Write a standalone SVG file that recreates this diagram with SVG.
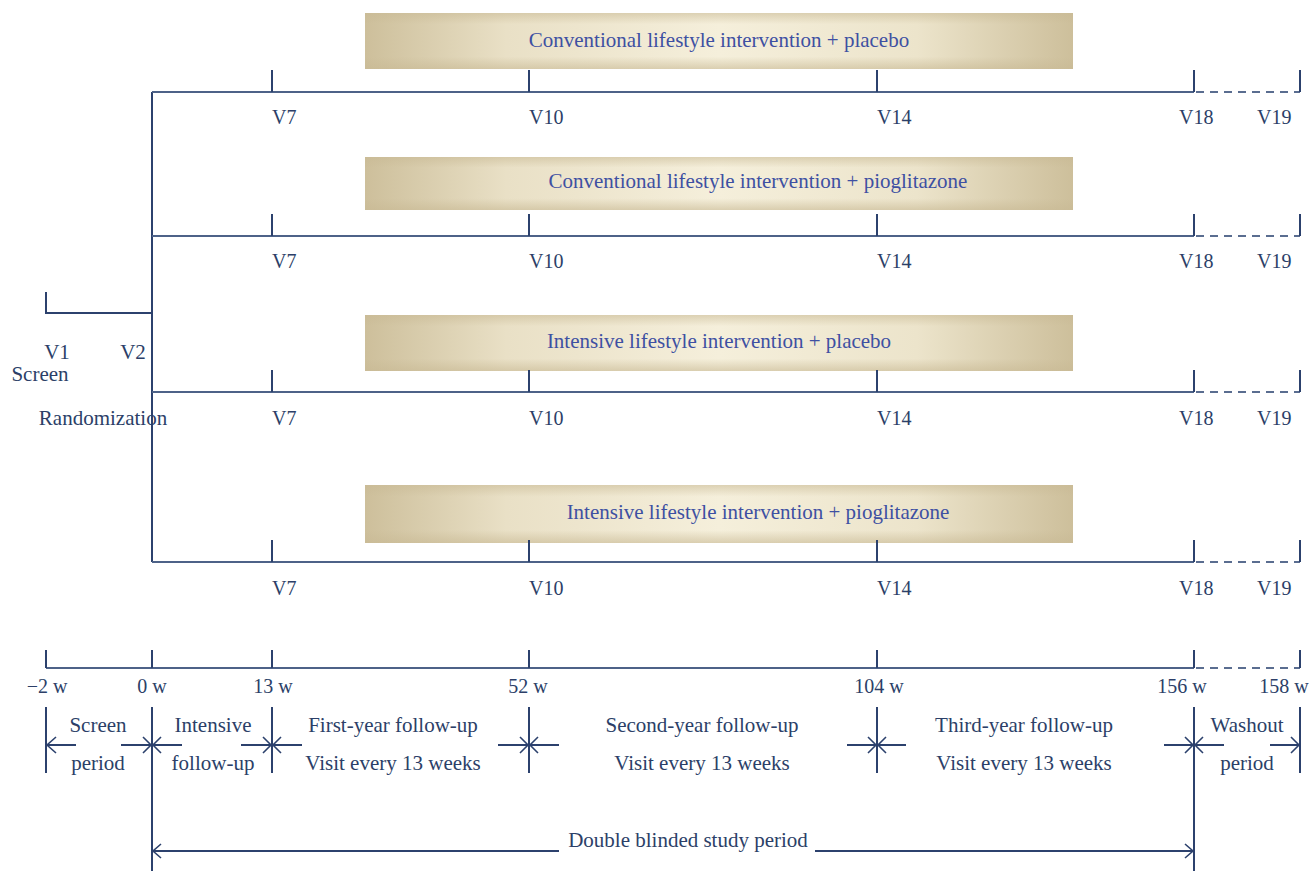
<svg xmlns="http://www.w3.org/2000/svg" width="1309" height="871" viewBox="0 0 1309 871">
<defs>
<linearGradient id="gh" x1="0" y1="0" x2="1" y2="0">
<stop offset="0" stop-color="#cdbf9b"/>
<stop offset="0.2" stop-color="#e9e0c6"/>
<stop offset="0.5" stop-color="#f5efdb"/>
<stop offset="0.78" stop-color="#ece4cb"/>
<stop offset="1" stop-color="#cdbf9b"/>
</linearGradient>
<linearGradient id="gv" x1="0" y1="0" x2="0" y2="1">
<stop offset="0" stop-color="#c8b994" stop-opacity="0.55"/>
<stop offset="0.2" stop-color="#c8b994" stop-opacity="0"/>
<stop offset="0.78" stop-color="#c8b994" stop-opacity="0"/>
<stop offset="1" stop-color="#c8b994" stop-opacity="0.6"/>
</linearGradient>
</defs>
<style>
.ln{stroke:#2c416d;stroke-width:2;fill:none}
.hl{stroke:#4d6288;stroke-width:2;fill:none}
.ds{stroke:#5a6d90;stroke-width:2;fill:none;stroke-dasharray:8 6}
.ah{stroke:#2c416d;stroke-width:1.6;fill:none}
.t{font-family:"Liberation Serif","DejaVu Serif",serif;font-size:21px;fill:#2c3f68}
.v{font-size:20px}
.bt{font-family:"Liberation Serif","DejaVu Serif",serif;font-size:21px;fill:#3e50a2}
.c{text-anchor:middle}
</style>
<rect width="1309" height="871" fill="#ffffff"/>

<g id="arm1">
<rect x="365" y="13" width="708" height="56" fill="url(#gh)"/>
<rect x="365" y="13" width="708" height="56" fill="url(#gv)"/>
<text class="bt c" x="719" y="47">Conventional lifestyle intervention + placebo</text>
</g>
<g id="arm2">
<rect x="365" y="157" width="708" height="53" fill="url(#gh)"/>
<rect x="365" y="157" width="708" height="53" fill="url(#gv)"/>
<text class="bt c" x="758" y="188">Conventional lifestyle intervention + pioglitazone</text>
</g>
<g id="arm3">
<rect x="365" y="315" width="708" height="56" fill="url(#gh)"/>
<rect x="365" y="315" width="708" height="56" fill="url(#gv)"/>
<text class="bt c" x="719" y="348">Intensive lifestyle intervention + placebo</text>
</g>
<g id="arm4">
<rect x="365" y="485" width="708" height="58" fill="url(#gh)"/>
<rect x="365" y="485" width="708" height="58" fill="url(#gv)"/>
<text class="bt c" x="758" y="519">Intensive lifestyle intervention + pioglitazone</text>
</g>

<g id="connectors">
<path class="ln" d="M46 292 V313 H152"/>
<path class="ln" d="M152 92 V562"/>
<path class="hl" d="M152 92 H1194 M152 236 H1194 M152 392 H1194 M152 562 H1194"/>
<path class="ds" d="M1196 92 H1300 M1196 236 H1300 M1196 392 H1300 M1196 562 H1300"/>
<path class="ln" d="M272 70 V92 M529 70 V92 M877 70 V92 M1194 70 V92 M1300 70 V92"/>
<path class="ln" d="M272 214 V236 M529 214 V236 M877 214 V236 M1194 214 V236 M1300 214 V236"/>
<path class="ln" d="M272 370 V392 M529 370 V392 M877 370 V392 M1194 370 V392 M1300 370 V392"/>
<path class="ln" d="M272 540 V562 M529 540 V562 M877 540 V562 M1194 540 V562 M1300 540 V562"/>
<path class="hl" d="M46 668 H1194"/>
<path class="ds" d="M1196 668 H1300"/>
<path class="ln" d="M46 650 V668 M152 650 V668 M272 650 V668 M529 650 V668 M877 650 V668 M1194 650 V668 M1300 650 V668"/>
<path class="ln" d="M46 707 V773 M272 707 V773 M529 707 V773 M877 707 V773 M1300 707 V773 M152 707 V871 M1194 707 V871"/>
<path class="ln" d="M47 745 H76 M121 745 H151 M153 745 H182 M241 745 H271 M273 745 H302 M498 745 H528 M530 745 H559 M847 745 H876 M878 745 H906 M1164 745 H1193 M1195 745 H1224 M1270 745 H1299"/>
<path class="ah" d="M56 737 L47 745 L56 753 M143 737 L151 745 L143 753 M161 737 L153 745 L161 753 M263 737 L271 745 L263 753 M281 737 L273 745 L281 753 M520 737 L528 745 L520 753 M538 737 L530 745 L538 753 M868 737 L876 745 L868 753 M886 737 L878 745 L886 753 M1185 737 L1193 745 L1185 753 M1203 737 L1195 745 L1203 753 M1291 737 L1299 745 L1291 753"/>
<path class="ln" d="M153 851 H559 M815 851 H1193"/>
<path class="ah" d="M161 844 L153 851 L161 858 M1185 844 L1193 851 L1185 858"/>
</g>

<g id="labels">
<text class="t c" x="57" y="359">V1</text>
<text class="t c" x="133" y="359">V2</text>
<text class="t c" x="40" y="381">Screen</text>
<text class="t c" x="103" y="425">Randomization</text>

<g class="t v">
<text x="272" y="124">V7</text><text x="529" y="124">V10</text><text x="877" y="124">V14</text><text x="1179" y="124">V18</text><text x="1257" y="124">V19</text>
<text x="272" y="268">V7</text><text x="529" y="268">V10</text><text x="877" y="268">V14</text><text x="1179" y="268">V18</text><text x="1257" y="268">V19</text>
<text x="272" y="425">V7</text><text x="529" y="425">V10</text><text x="877" y="425">V14</text><text x="1179" y="425">V18</text><text x="1257" y="425">V19</text>
<text x="272" y="595">V7</text><text x="529" y="595">V10</text><text x="877" y="595">V14</text><text x="1179" y="595">V18</text><text x="1257" y="595">V19</text>
</g>

<g class="t v c">
<text x="47" y="693">−2 w</text>
<text x="152" y="693">0 w</text>
<text x="273" y="693">13 w</text>
<text x="528" y="693">52 w</text>
<text x="879" y="693">104 w</text>
<text x="1182" y="693">156 w</text>
<text x="1284" y="693">158 w</text>
</g>

<text class="t c" x="98" y="732">Screen</text>
<text class="t c" x="98" y="770">period</text>
<text class="t c" x="213" y="732">Intensive</text>
<text class="t c" x="213" y="770">follow-up</text>
<text class="t c" x="393" y="732">First-year follow-up</text>
<text class="t c" x="393" y="770">Visit every 13 weeks</text>
<text class="t c" x="702" y="732">Second-year follow-up</text>
<text class="t c" x="702" y="770">Visit every 13 weeks</text>
<text class="t c" x="1024" y="732">Third-year follow-up</text>
<text class="t c" x="1024" y="770">Visit every 13 weeks</text>
<text class="t c" x="1247" y="732">Washout</text>
<text class="t c" x="1247" y="770">period</text>

<text class="t c" x="688" y="847">Double blinded study period</text>
</g>
</svg>
